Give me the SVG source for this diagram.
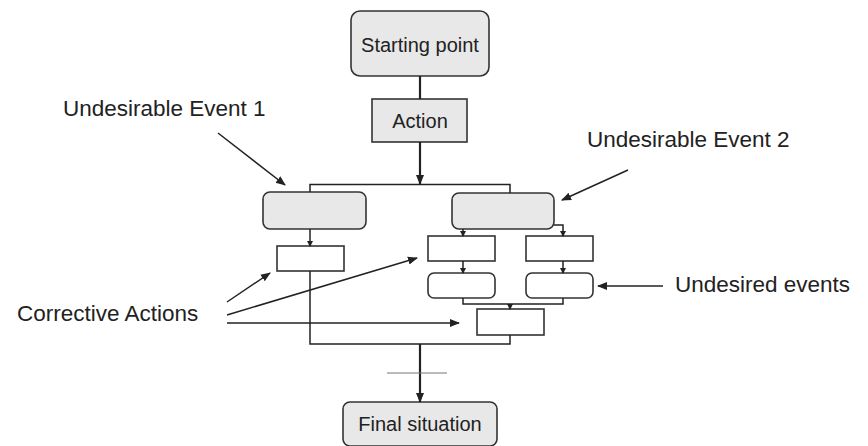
<svg xmlns="http://www.w3.org/2000/svg" width="868" height="446" viewBox="0 0 868 446">
<style>
.gb{fill:#e8e8e8;stroke:#333;stroke-width:1.6}
.wb{fill:#fff;stroke:#333;stroke-width:1.6}
.lbl{font-family:"Liberation Sans",Arial,sans-serif;font-size:20px;fill:#222;text-anchor:middle}
.big{font-family:"Liberation Sans",Arial,sans-serif;font-size:22.5px;fill:#222}
.c{fill:none;stroke:#222;stroke-width:1.5}
.t{fill:none;stroke:#222;stroke-width:2.2}
</style>
<defs>
<marker id="ah" markerWidth="10" markerHeight="10" refX="9" refY="5" orient="auto" markerUnits="userSpaceOnUse"><path d="M0,1 L10,5 L0,9 Z" fill="#222"/></marker>
<marker id="sm" markerWidth="6" markerHeight="6" refX="5" refY="3" orient="auto" markerUnits="userSpaceOnUse"><path d="M0,0 L6,3 L0,6 Z" fill="#222"/></marker>
</defs>
<g id="start"><rect class="gb" x="351" y="11" width="138" height="65" rx="9"/><text class="lbl" x="420" y="52">Starting point</text></g>
<g id="action"><rect class="gb" x="372" y="99" width="95" height="43"/><text class="lbl" x="420" y="128">Action</text></g>
<g id="event1"><rect class="gb" x="263" y="192" width="103" height="37" rx="7"/></g>
<g id="event2"><rect class="gb" x="452" y="193" width="102" height="36" rx="7"/></g>
<g id="ca1"><rect class="wb" x="277" y="246" width="67" height="25"/></g>
<g id="ca2"><rect class="wb" x="428" y="236" width="67" height="25"/></g>
<g id="ca3"><rect class="wb" x="526" y="236" width="67" height="25"/></g>
<g id="ue1"><rect class="wb" x="428" y="273" width="67" height="25" rx="6"/></g>
<g id="ue2"><rect class="wb" x="526" y="273" width="67" height="25" rx="6"/></g>
<g id="ca4"><rect class="wb" x="477" y="309" width="67" height="26"/></g>
<g id="final"><rect class="gb" x="343" y="402" width="154" height="44" rx="7"/><text class="lbl" x="420" y="431">Final situation</text></g>
<g id="labels">
<text class="big" x="63" y="116">Undesirable Event 1</text>
<text class="big" x="587" y="147">Undesirable Event 2</text>
<text class="big" x="17" y="321">Corrective Actions</text>
<text class="big" x="675" y="292">Undesired events</text>
</g>
<g id="connectors">
<line class="t" x1="420" y1="76" x2="420" y2="99"/>
<line class="t" x1="420" y1="142" x2="420" y2="184" marker-end="url(#ah)"/>
<polyline class="c" points="310,192 310,184.5 510,184.5 510,193"/>
<line class="c" x1="310" y1="229" x2="310" y2="246" marker-end="url(#sm)"/>
<polyline class="c" points="310,271 310,344 510,344 510,335"/>
<line class="c" x1="463" y1="229" x2="463" y2="236" marker-end="url(#sm)"/>
<polyline class="c" points="554,225 563,225 563,236" marker-end="url(#sm)"/>
<line class="c" x1="463" y1="261" x2="463" y2="273" marker-end="url(#sm)"/>
<line class="c" x1="563" y1="261" x2="563" y2="273" marker-end="url(#sm)"/>
<polyline class="c" points="463,298 463,304 563,304 563,298"/>
<line class="c" x1="510" y1="304" x2="510" y2="309" marker-end="url(#sm)"/>
<line class="t" x1="420" y1="344" x2="420" y2="402" marker-end="url(#ah)"/>
<line stroke="#777" stroke-width="1" x1="387" y1="373" x2="447" y2="373"/>
<line class="c" x1="218" y1="133" x2="285" y2="185" marker-end="url(#ah)"/>
<line class="c" x1="628" y1="170" x2="562" y2="200" marker-end="url(#ah)"/>
<line class="c" x1="663" y1="286" x2="598" y2="286" marker-end="url(#ah)"/>
<line class="c" x1="227" y1="302" x2="270" y2="273" marker-end="url(#ah)"/>
<line class="c" x1="227" y1="315" x2="417" y2="258" marker-end="url(#ah)"/>
<line class="c" x1="227" y1="323" x2="459" y2="323" marker-end="url(#ah)"/>
</g>
</svg>
